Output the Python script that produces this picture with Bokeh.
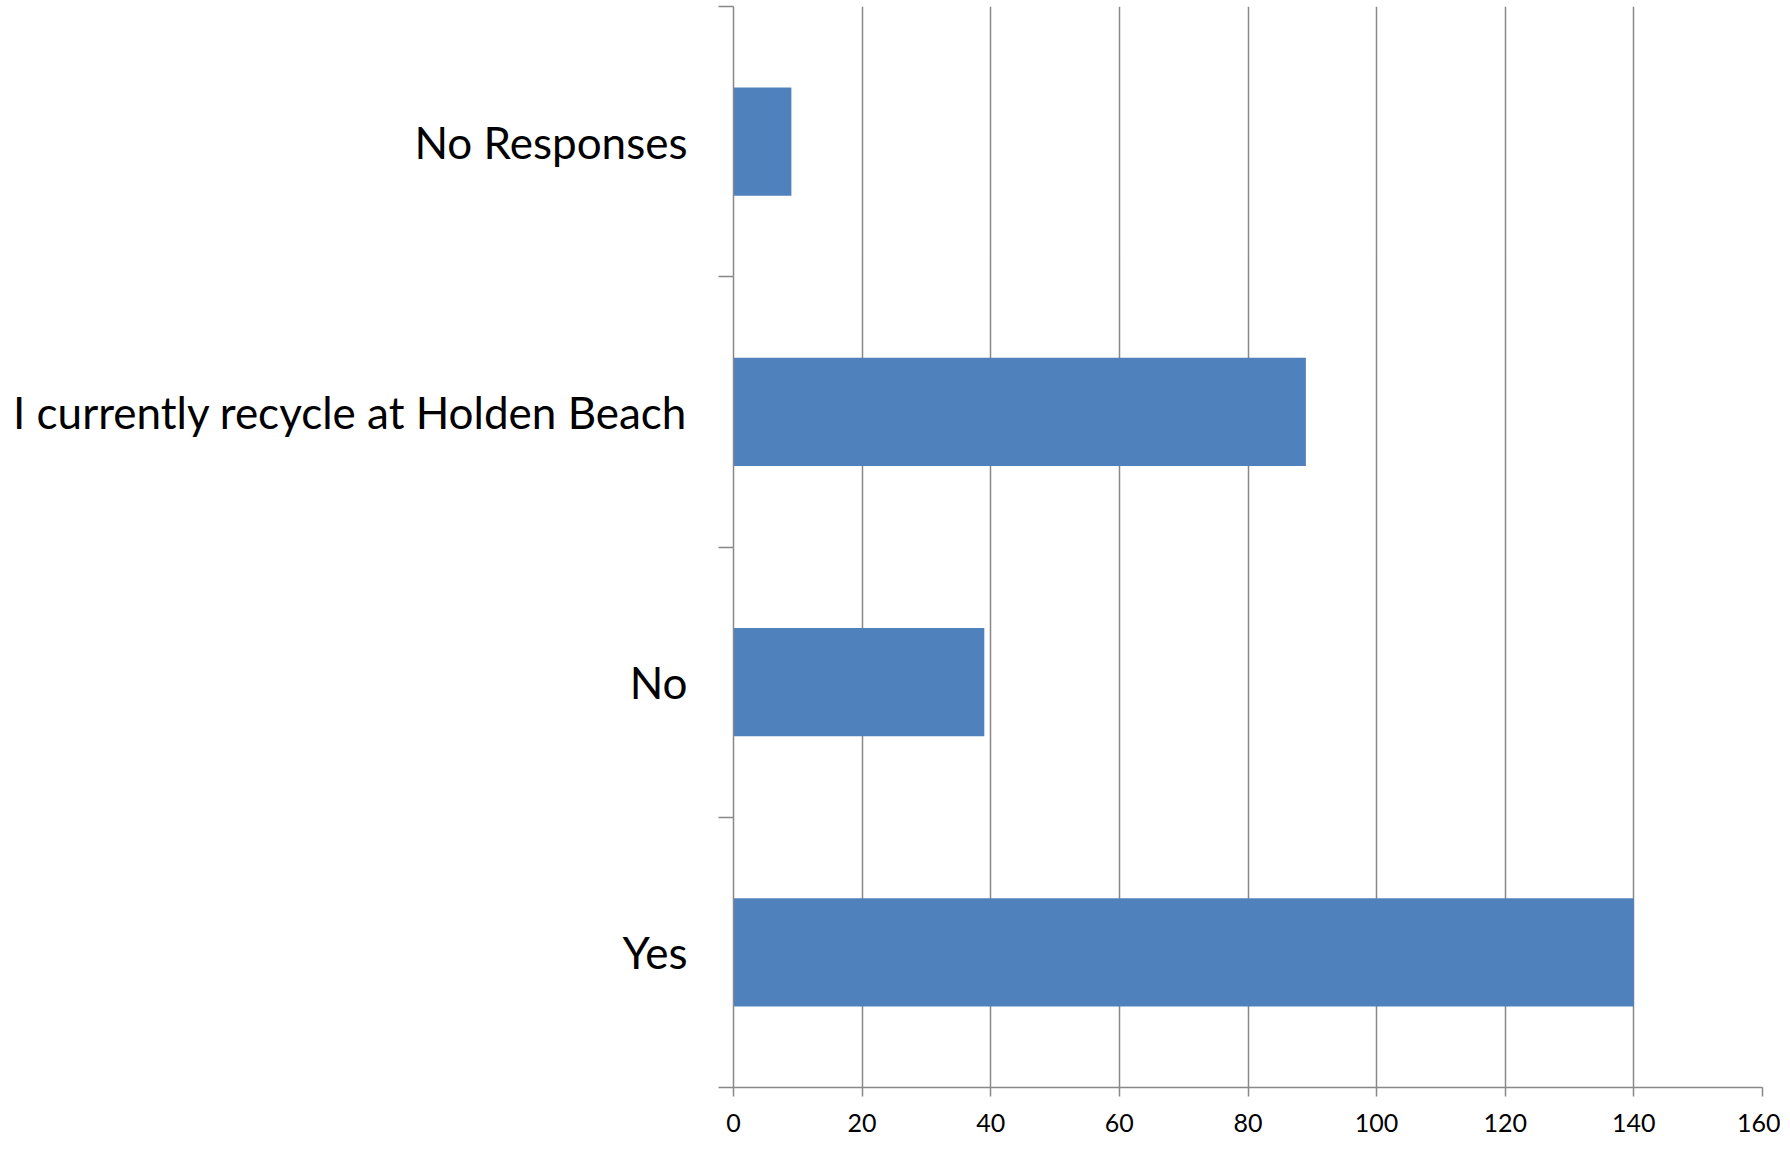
from bokeh.plotting import figure
from bokeh.models import Range1d, FixedTicker
from bokeh.embed import file_html
from bokeh.resources import INLINE

categories = ["Yes", "No", "I currently recycle at Holden Beach", "No Responses"]
counts = [140, 39, 89, 9]
x_ticks = [0, 20, 40, 60, 80, 100, 120, 140, 160]

n = len(categories)
centers = [i + 0.5 for i in range(n)]
bounds = [float(i) for i in range(n + 1)]

p = figure(width=1780, height=1144, output_backend="svg", toolbar_location=None,
           x_range=Range1d(0, 160), y_range=Range1d(0, n),
           min_border_left=733, min_border_right=18, min_border_top=6, min_border_bottom=57)
p.outline_line_color = None
p.background_fill_color = "white"
p.border_fill_color = "white"

p.hbar(y=centers, right=counts, left=0, height=0.4, fill_color="#4F81BD", line_color=None)

grey = "#888888"
# x axis
p.xaxis.ticker = FixedTicker(ticks=x_ticks)
p.xaxis.axis_line_color = grey
p.xaxis.axis_line_width = 1.5
p.xaxis.major_tick_line_color = grey
p.xaxis.major_tick_line_width = 1.5
p.xaxis.major_tick_out = 9
p.xaxis.major_tick_in = 0
p.xaxis.minor_tick_line_color = None
p.xaxis.major_label_text_font = "Lato"
p.xaxis.major_label_text_font_size = "25px"
p.xaxis.major_label_text_color = "black"
p.xaxis.major_label_standoff = 17

# y axis
p.yaxis.ticker = FixedTicker(ticks=centers, minor_ticks=bounds)
p.yaxis.major_label_overrides = {c: lab for c, lab in zip(centers, categories)}
p.yaxis.axis_line_color = grey
p.yaxis.axis_line_width = 1.5
p.yaxis.major_tick_line_color = None
p.yaxis.major_tick_out = 15
p.yaxis.major_tick_in = 0
p.yaxis.minor_tick_line_color = grey
p.yaxis.minor_tick_line_width = 1.5
p.yaxis.minor_tick_out = 15
p.yaxis.minor_tick_in = 0
p.yaxis.major_label_text_font = "Lato"
p.yaxis.major_label_text_font_size = "44px"
p.yaxis.major_label_text_color = "black"
p.yaxis.major_label_standoff = 31

p.xgrid.grid_line_color = grey
p.xgrid.grid_line_width = 1.5
p.ygrid.grid_line_color = None

open("out.html", "w").write(file_html(p, INLINE))
